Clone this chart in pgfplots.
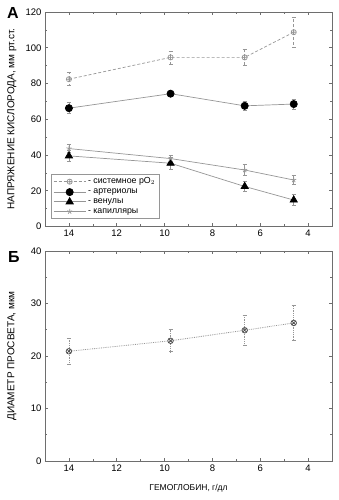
\documentclass[border=0pt]{standalone}
\usepackage{fontspec}
\setmainfont{Liberation Sans}
\usepackage{pgfplots}
\pgfplotsset{compat=1.18}
\definecolor{lg}{RGB}{150,150,150}
\definecolor{ax}{RGB}{110,110,110}
\begin{document}
\begin{tikzpicture}
\useasboundingbox (0,0) rectangle (339pt,500pt);
\pgfplotsset{
  common/.style={
    scale only axis, width=287pt,
    x dir=reverse, xmin=3, xmax=15,
    xtick={4,6,8,10,12,14}, minor xtick={5,7,9,11,13},
    tick align=inside, major tick length=3pt, minor tick length=2pt,
    every tick/.style={ax, line width=0.5pt},
    axis line style={ax, line width=0.8pt},
    tick label style={font=\fontsize{9.5}{11}\selectfont},
    /pgf/number format/assume math mode=true,
    every axis y label/.style={at={(axis description cs:-0.115,0.5)}, rotate=90, anchor=center,
      font=\fontsize{10}{12}\selectfont},
    every axis x label/.style={at={(axis description cs:0.5,-0.13)}, anchor=center,
      font=\fontsize{8.5}{10}\selectfont},
    error bars/error bar style={lg, line width=0.6pt},
    error bars/error mark options={rotate=90, mark size=2pt, lg, line width=0.6pt},
  }
}
% Panel A
\begin{axis}[common, at={(45pt,273.5pt)}, anchor=south west, height=214.5pt,
  ymin=0, ymax=120, ytick={0,20,40,60,80,100,120}, minor ytick={10,30,50,70,90,110},
  ylabel={НАПРЯЖЕНИЕ КИСЛОРОДА, мм рт.ст.},
  legend style={at={(0.021,0.035)}, anchor=south west, draw=lg, line width=0.6pt,
    font=\fontsize{8.8}{10}\selectfont, row sep=-0.5pt, inner sep=2pt},
  legend cell align=left,
  legend image code/.code={\draw[mark repeat=2, mark phase=2] plot coordinates {(0pt,0pt) (16pt,0pt) (32pt,0pt)};},
]
\addplot[lg, densely dashed, line width=0.7pt, mark=oplus, mark size=2.6pt,
  mark options={solid, lg, fill=white},
  error bars/.cd, y dir=both, y explicit]
  coordinates {(14,82.4) +- (0,3.6) (9.75,94.6) +- (0,3.6) (6.65,94.6) +- (0,4.5) (4.6,108.7) +- (0,8.4)};
\addlegendentry{- системное pO$_2$}
\addplot[lg, line width=0.7pt, mark=*, mark size=3.6pt,
  mark options={black, fill=black},
  error bars/.cd, y dir=both, y explicit]
  coordinates {(14,66.2) +- (0,3) (9.75,74.3) +- (0,1.5) (6.65,67.5) +- (0,2.5) (4.6,68.5) +- (0,2.8)};
\addlegendentry{- артериолы}
\addplot[lg, line width=0.7pt, mark=triangle*, mark size=4.2pt,
  mark options={black, fill=black},
  error bars/.cd, y dir=both, y explicit]
  coordinates {(14,39.5) +- (0,3) (9.75,35.4) +- (0,3.5) (6.65,22.4) +- (0,2.8) (4.6,14.8) +- (0,3.2)};
\addlegendentry{- венулы}
\addplot[lg, line width=0.7pt, mark=star, mark size=2.6pt,
  mark options={lg},
  error bars/.cd, y dir=both, y explicit]
  coordinates {(14,43.6) +- (0,2.2) (9.75,38) +- (0,2) (6.65,31.6) +- (0,3) (4.6,26) +- (0,2.5)};
\addlegendentry{- капилляры}
\end{axis}
% Panel B
\begin{axis}[common, at={(45pt,39pt)}, anchor=south west, height=210pt,
  ymin=0, ymax=40, ytick={0,10,20,30,40}, minor ytick={5,15,25,35},
  ylabel={ДИАМЕТР ПРОСВЕТА, мкм},
  xlabel={ГЕМОГЛОБИН, г/дл},
]
\addplot[lg, densely dotted, line width=0.8pt, mark=otimes, mark size=2.8pt,
  mark options={solid, black!70, line width=0.7pt, fill=white},
  error bars/.cd, y dir=both, y explicit]
  coordinates {(14,20.9) +- (0,2.4) (9.75,22.9) +- (0,2.1) (6.65,24.9) +- (0,2.9) (4.6,26.3) +- (0,3.3)};
\end{axis}
\node[font=\fontsize{16}{18}\selectfont\bfseries] at (13pt,487pt) {А};
\node[font=\fontsize{16}{18}\selectfont\bfseries] at (14pt,242.5pt) {Б};
\end{tikzpicture}
\end{document}
